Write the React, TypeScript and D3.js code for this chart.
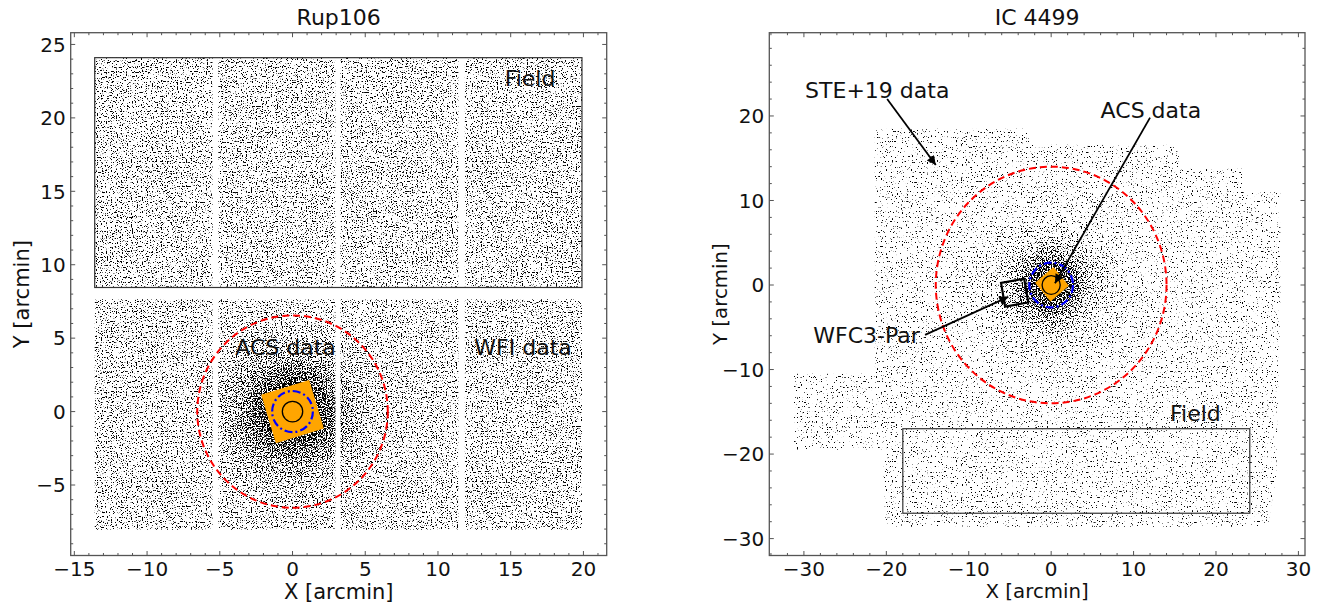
import React from "react";
import * as d3 from "d3";

const FONT = "DejaVu Sans, Verdana, sans-serif";
const W = 1321;
const H = 603;

// ---------------- Rup106 (left panel) ----------------
const rupTitle = "Rup106";
const rupXDomain: [number, number] = [-15.25, 21.6];
const rupYDomain: [number, number] = [-9.8, 25.8];
const rupXTicks = [-15, -10, -5, 0, 5, 10, 15, 20];
const rupYTicks = [-5, 0, 5, 10, 15, 20, 25];
const rupMinorStep = 1;
// WFI mosaic chips (arcmin)
const rupChipCols = [[-13.6, -5.5], [-5.1, 2.95], [3.3, 11.4], [11.85, 19.9]];
const rupChipRows = [[-8.05, 7.65], [8.5, 24.1]];
const rupFieldBox = { x0: -13.6, x1: 19.9, y0: 8.45, y1: 24.1 };
const rupAcsBox = { cx: 0, cy: 0, side: 3.45, angle: 17 };
const rupCircles = { tidal: 6.55, halfLight: 1.4, core: 0.7 };
const rupBgThreshold = 0.59;
// star-density boost vs radius (arcmin, boost)
const rupCoreRadius = [0, 1.5, 2.5, 3.5, 4.5, 5.5, 7];
const rupCoreBoost = [0.2, 0.18, 0.13, 0.08, 0.045, 0.02, 0];
const rupLabels = [
  { text: "Field", x: 16.33, y: 22.7 },
  { text: "ACS data", x: -0.48, y: 4.4 },
  { text: "WFI data", x: 15.85, y: 4.4 },
];

// ---------------- IC 4499 (right panel) ----------------
const icTitle = "IC 4499";
const icXDomain: [number, number] = [-34.2, 30.8];
const icYDomain: [number, number] = [-32.0, 29.85];
const icXTicks = [-30, -20, -10, 0, 10, 20, 30];
const icYTicks = [-30, -20, -10, 0, 10, 20];
const icMinorStep = 2;
const icOutline: [number, number][] = [
  [-21.4, 18.5], [-2.6, 18.5], [-2.6, 16.6], [15.5, 16.6], [15.5, 13.75],
  [23.2, 13.75], [23.2, 11.0], [27.8, 11.0], [27.8, -2], [27.3, -22.5],
  [26.3, -28.6], [-20.2, -28.6], [-20.4, -19.5], [-31.2, -19.5],
  [-31.2, -10.5], [-21.4, -10.5],
];
const icFieldBox = { x0: -18, x1: 24.1, y0: -27, y1: -17 };
const icAcsBox = { cx: 0.1, cy: 0.1, side: 2.9, angle: 40 };
const icWfc3Box = { cx: -4.43, cy: -0.91, side: 2.85, angle: 10 };
const icCircles = { tidal: 14, halfLight: 2.65, core: 1.1 };
const icBgThreshold = 0.648;
const icCoreRadius = [0, 2.5, 4, 5.5, 7.5, 10, 13];
const icCoreBoost = [0.22, 0.2, 0.12, 0.065, 0.035, 0.012, 0];
const icLabels = [
  { text: "STE+19 data", x: -21.1, y: 23.1 },
  { text: "ACS data", x: 12.1, y: 20.7 },
  { text: "WFC3-Par", x: -22.4, y: -5.9 },
  { text: "Field", x: 17.5, y: -15.2 },
];
const icArrows = [
  { from: [-19.9, 22.0], to: [-14.0, 14.2] },
  { from: [12.0, 19.8], to: [0.46, 0.2] },
  { from: [-15.3, -5.9], to: [-5.2, -1.4] },
];

type Scale = d3.ScaleLinear<number, number>;
type Box = { x: number; y: number; w: number; h: number };

const FRAME = "#555";

function rotatedSquare(x: Scale, y: Scale, b: { cx: number; cy: number; side: number; angle: number }) {
  const a = (b.angle * Math.PI) / 180;
  const h = b.side / 2;
  const corners = [[-h, -h], [h, -h], [h, h], [-h, h]].map(([dx, dy]) => [
    b.cx + dx * Math.cos(a) - dy * Math.sin(a),
    b.cy + dx * Math.sin(a) + dy * Math.cos(a),
  ]);
  return d3.line()(corners.map(([u, v]) => [x(u), y(v)] as [number, number])) + "Z";
}

// Star field drawn as a thresholded noise texture; the density is raised toward the
// cluster centre by a radial gradient that lowers the threshold.
function StarField(props: {
  id: string; seed: number; t: number; box: Box; clipPath: string;
  x: Scale; y: Scale; radii: number[]; boost: number[];
}) {
  const { id, seed, t, box, x, y, radii, boost } = props;
  const S = 18;
  const R = radii[radii.length - 1];
  const grey = (v: number) => {
    const c = Math.round(Math.max(0, Math.min(1, v)) * 255);
    return `rgb(${c},${c},${c})`;
  };
  return (
    <g clipPath={props.clipPath}>
      <defs>
        <radialGradient id={id + "-g"} gradientUnits="userSpaceOnUse" cx={x(0)} cy={y(0)} r={x(R) - x(0)}>
          {radii.map((r, i) => (
            <stop key={i} offset={r / R} stopColor={grey(boost[i])} />
          ))}
        </radialGradient>
        <filter id={id} filterUnits="userSpaceOnUse" x={box.x} y={box.y} width={box.w} height={box.h}
          colorInterpolationFilters="sRGB">
          <feTurbulence type="fractalNoise" baseFrequency="0.8" numOctaves={1} seed={seed} result="n0" />
          <feColorMatrix in="n0" type="matrix" values="1 0 0 0 0  1 0 0 0 0  1 0 0 0 0  0 0 0 0 1" result="n" />
          <feComposite in="n" in2="SourceGraphic" operator="arithmetic" k1={0} k2={1} k3={1} k4={0} result="sum" />
          <feColorMatrix in="sum" type="matrix" values="0 0 0 0 0  0 0 0 0 0  0 0 0 0 0  1 0 0 0 0" />
          <feComponentTransfer>
            <feFuncA type="linear" slope={S} intercept={-S * t} />
          </feComponentTransfer>
        </filter>
      </defs>
      <rect x={box.x} y={box.y} width={box.w} height={box.h} fill={`url(#${id}-g)`} filter={`url(#${id})`} />
    </g>
  );
}

function Axes(props: {
  x: Scale; y: Scale; xTicks: number[]; yTicks: number[]; minorStep: number;
  title: string; labelSize: number; labelY: number;
}) {
  const { x, y, xTicks, yTicks, minorStep } = props;
  const [l, r] = x.range();
  const [b, t] = y.range();
  const fmt = (v: number) => d3.format("d")(v).replace("-", "\u2212");
  const xd = x.domain(), yd = y.domain();
  const xMinor = d3.range(Math.ceil(xd[0] / minorStep) * minorStep, xd[1], minorStep).filter((v) => !xTicks.includes(v));
  const yMinor = d3.range(Math.ceil(yd[0] / minorStep) * minorStep, yd[1], minorStep).filter((v) => !yTicks.includes(v));
  const MJ = 4.5, MN = 2.5;
  const cx = (l + r) / 2, cy = (t + b) / 2;
  return (
    <g>
      <rect x={l} y={t} width={r - l} height={b - t} fill="none" stroke={FRAME} strokeWidth={1.3} />
      <g stroke={FRAME} strokeWidth={1}>
        {xTicks.map((v) => (
          <g key={"xt" + v}>
            <line x1={x(v)} x2={x(v)} y1={b} y2={b - MJ} />
            <line x1={x(v)} x2={x(v)} y1={t} y2={t + MJ} />
          </g>
        ))}
        {xMinor.map((v) => (
          <g key={"xm" + v}>
            <line x1={x(v)} x2={x(v)} y1={b} y2={b - MN} />
            <line x1={x(v)} x2={x(v)} y1={t} y2={t + MN} />
          </g>
        ))}
        {yTicks.map((v) => (
          <g key={"yt" + v}>
            <line x1={l} x2={l + MJ} y1={y(v)} y2={y(v)} />
            <line x1={r} x2={r - MJ} y1={y(v)} y2={y(v)} />
          </g>
        ))}
        {yMinor.map((v) => (
          <g key={"ym" + v}>
            <line x1={l} x2={l + MN} y1={y(v)} y2={y(v)} />
            <line x1={r} x2={r - MN} y1={y(v)} y2={y(v)} />
          </g>
        ))}
      </g>
      <g fontFamily={FONT} fontSize={20} fill="#111">
        {xTicks.map((v) => (
          <text key={"xl" + v} x={x(v)} y={b + 20} textAnchor="middle">{fmt(v)}</text>
        ))}
        {yTicks.map((v) => (
          <text key={"yl" + v} x={l - 5} y={y(v)} dy="0.36em" textAnchor="end">{fmt(v)}</text>
        ))}
      </g>
      <text x={cx} y={17} dy="0.36em" textAnchor="middle" fontFamily={FONT} fontSize={22} fill="#111">{props.title}</text>
      <text x={cx} y={props.labelY} textAnchor="middle" fontFamily={FONT} fontSize={props.labelSize} fill="#111">X [arcmin]</text>
      <text transform={`translate(${l - 49},${cy}) rotate(-90)`} dy="0.36em" textAnchor="middle" fontFamily={FONT}
        fontSize={props.labelSize} fill="#111">Y [arcmin]</text>
    </g>
  );
}

function RupPanel() {
  const x = d3.scaleLinear().domain(rupXDomain).range([70.7, 606.7]);
  const y = d3.scaleLinear().domain(rupYDomain).range([555.5, 32.7]);
  const box = { x: 70.7, y: 32.7, w: 536, h: 522.8 };
  const chips = rupChipRows.flatMap(([y0, y1]) => rupChipCols.map(([x0, x1]) => ({ x0, x1, y0, y1 })));
  const ell = (r: number) => ({ cx: x(0), cy: y(0), rx: x(r) - x(0), ry: y(0) - y(r) });
  return (
    <g>
      <defs>
        <clipPath id="rup-chips">
          {chips.map((c, i) => (
            <rect key={i} x={x(c.x0)} y={y(c.y1)} width={x(c.x1) - x(c.x0)} height={y(c.y0) - y(c.y1)} />
          ))}
        </clipPath>
      </defs>
      <StarField id="spk-rup" seed={11} t={rupBgThreshold} box={box} clipPath="url(#rup-chips)"
        x={x} y={y} radii={rupCoreRadius} boost={rupCoreBoost} />
      <rect x={x(rupFieldBox.x0)} y={y(rupFieldBox.y1)} width={x(rupFieldBox.x1) - x(rupFieldBox.x0)}
        height={y(rupFieldBox.y0) - y(rupFieldBox.y1)} fill="none" stroke="#333" strokeWidth={1.2} />
      <path d={rotatedSquare(x, y, rupAcsBox)} fill="#FFA500" />
      <ellipse {...ell(rupCircles.tidal)} fill="none" stroke="#f00" strokeWidth={2} strokeDasharray="7 4" />
      <ellipse {...ell(rupCircles.halfLight)} fill="none" stroke="#0000ff" strokeWidth={2.2} strokeDasharray="8 3 2 3" />
      <ellipse {...ell(rupCircles.core)} fill="none" stroke="#000" strokeWidth={1.3} />
      <g fontFamily={FONT} fontSize={22} fill="#111">
        {rupLabels.map((d) => (
          <text key={d.text} x={x(d.x)} y={y(d.y)} dy="0.36em" textAnchor="middle">{d.text}</text>
        ))}
      </g>
      <Axes x={x} y={y} xTicks={rupXTicks} yTicks={rupYTicks} minorStep={rupMinorStep} title={rupTitle}
        labelSize={21} labelY={599} />
    </g>
  );
}

function IcPanel() {
  const x = d3.scaleLinear().domain(icXDomain).range([769.3, 1305]);
  const y = d3.scaleLinear().domain(icYDomain).range([555.5, 32.7]);
  const box = { x: 769.3, y: 32.7, w: 535.7, h: 522.8 };
  const ell = (r: number) => ({ cx: x(0), cy: y(0), rx: x(r) - x(0), ry: y(0) - y(r) });
  const outline = d3.line()(icOutline.map(([u, v]) => [x(u), y(v)] as [number, number])) + "Z";
  return (
    <g>
      <defs>
        <clipPath id="ic-outline"><path d={outline} /></clipPath>
        <marker id="arrowhead" viewBox="0 0 10 10" refX={10} refY={5} markerUnits="userSpaceOnUse"
          markerWidth={11} markerHeight={9} orient="auto">
          <path d="M0,0 L10,5 L0,10 Z" fill="#000" />
        </marker>
      </defs>
      <StarField id="spk-ic" seed={5} t={icBgThreshold} box={box} clipPath="url(#ic-outline)"
        x={x} y={y} radii={icCoreRadius} boost={icCoreBoost} />
      <rect x={x(icFieldBox.x0)} y={y(icFieldBox.y1)} width={x(icFieldBox.x1) - x(icFieldBox.x0)}
        height={y(icFieldBox.y0) - y(icFieldBox.y1)} fill="none" stroke="#333" strokeWidth={1.2} />
      <ellipse {...ell(icCircles.tidal)} fill="none" stroke="#f00" strokeWidth={2} strokeDasharray="7 4" />
      <path d={rotatedSquare(x, y, icAcsBox)} fill="#FFA500" />
      <path d={rotatedSquare(x, y, icWfc3Box)} fill="none" stroke="#000" strokeWidth={2.2} />
      <ellipse {...ell(icCircles.halfLight)} fill="none" stroke="#0000ff" strokeWidth={2.2} strokeDasharray="8 3 2 3" />
      <ellipse {...ell(icCircles.core)} fill="none" stroke="#000" strokeWidth={1.3} />
      {icArrows.map((a, i) => (
        <line key={i} x1={x(a.from[0])} y1={y(a.from[1])} x2={x(a.to[0])} y2={y(a.to[1])}
          stroke="#000" strokeWidth={1.8} markerEnd="url(#arrowhead)" />
      ))}
      <g fontFamily={FONT} fontSize={22} fill="#111">
        {icLabels.map((d) => (
          <text key={d.text} x={x(d.x)} y={y(d.y)} dy="0.36em" textAnchor="middle">{d.text}</text>
        ))}
      </g>
      <Axes x={x} y={y} xTicks={icXTicks} yTicks={icYTicks} minorStep={icMinorStep} title={icTitle}
        labelSize={19.8} labelY={598} />
    </g>
  );
}

export default function App() {
  return (
    <div style={{ position: "fixed", left: 0, top: 0, width: W, height: H, background: "#fff" }}>
      <svg width={W} height={H} viewBox={`0 0 ${W} ${H}`} style={{ display: "block" }}>
        <rect width={W} height={H} fill="#fff" />
        <RupPanel />
        <IcPanel />
      </svg>
    </div>
  );
}
